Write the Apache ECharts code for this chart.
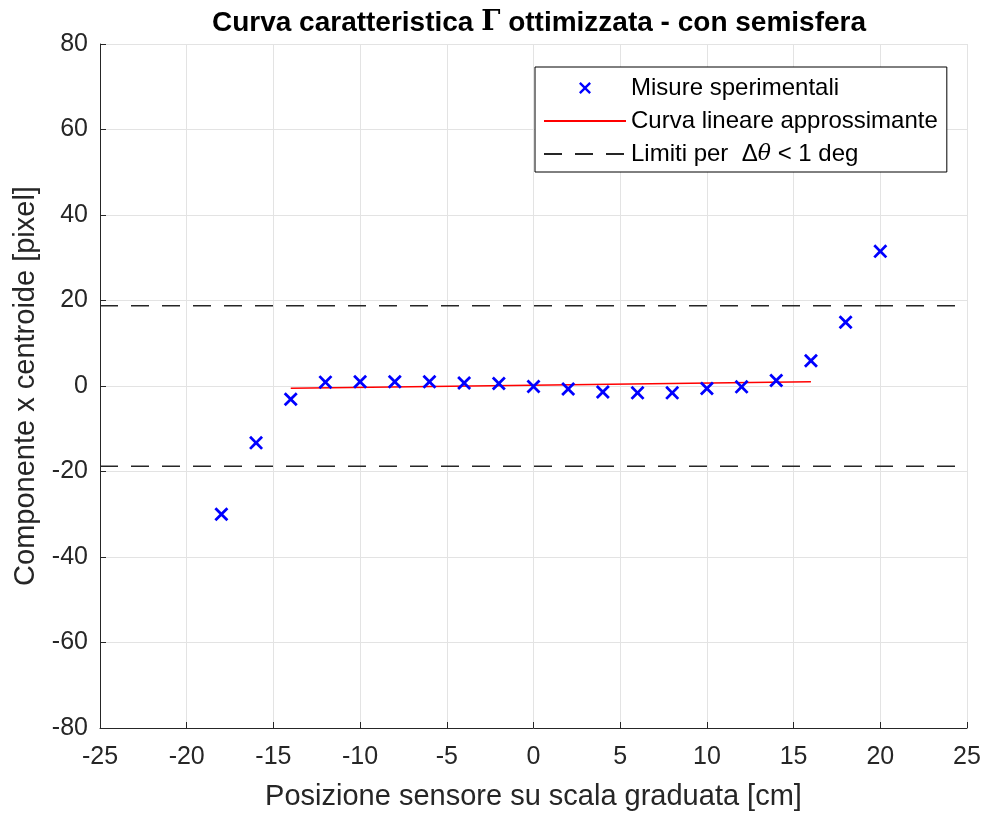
<!DOCTYPE html>
<html>
<head>
<meta charset="utf-8">
<script src="https://cdn.jsdelivr.net/npm/echarts@6/dist/echarts.min.js"></script>
<style>
html,body{margin:0;padding:0;background:#fff;}
#chart{width:985px;height:816px;}
</style>
</head>
<body>
<div id="chart"></div>
<script>
// Data
const positions = [-18, -16, -14, -12, -10, -8, -6, -4, -2, 0, 2, 4, 6, 8, 10, 12, 14, 16, 18, 20];
const centroidX = [-30.0, -13.3, -3.1, 0.9, 1.0, 1.0, 1.0, 0.7, 0.6, -0.1, -0.7, -1.4, -1.6, -1.6, -0.6, -0.2, 1.3, 5.9, 14.9, 31.5];
const fitX = [-14, 16];
const fitY = [-0.55, 1.02];
const limitX = [-25, 25];
const limitValue = 18.8;
const xTicks = [-25, -20, -15, -10, -5, 0, 5, 10, 15, 20, 25];
const yTicks = [-80, -60, -40, -20, 0, 20, 40, 60, 80];

const FONT = "'Liberation Sans', Arial, Helvetica, sans-serif";
const AXIS_COLOR = '#262626';
const X_PATH = 'path://M1.4,0 L5,3.6 L8.6,0 L10,1.4 L6.4,5 L10,8.6 L8.6,10 L5,6.4 L1.4,10 L0,8.6 L3.6,5 L0,1.4 Z';

const scatterData = positions.map((x, i) => [x, centroidX[i]]);
const fitData = fitX.map((x, i) => [x, fitY[i]]);
const upperLimit = limitX.map(x => [x, limitValue]);
const lowerLimit = limitX.map(x => [x, -limitValue]);

const chart = echarts.init(document.getElementById('chart'), null, {renderer: 'canvas'});
chart.setOption({
  animation: false,
  backgroundColor: '#ffffff',
  title: {
    text: 'Curva caratteristica {g|Γ} ottimizzata - con semisfera',
    left: 534,
    textAlign: 'center',
    top: 4,
    textStyle: {
      fontFamily: FONT, fontSize: 28, fontWeight: 'bold', color: '#000',
      rich: {
        g: {fontFamily: "'DejaVu Serif', 'Liberation Serif', serif", fontSize: 27, fontWeight: 'bold', color: '#000'}
      }
    }
  },
  grid: {left: 100, right: 18, top: 44, bottom: 86, containLabel: false},
  legend: {
    orient: 'vertical',
    left: 535,
    top: 67,
    padding: [9, 9, 6, 8],
    itemGap: 9,
    itemWidth: 82,
    itemHeight: 12,
    backgroundColor: '#fff',
    borderColor: '#000',
    borderWidth: 1,
    borderRadius: 0,
    textStyle: {
      fontFamily: FONT, fontSize: 24, color: '#000',
      rich: {
        i: {fontFamily: "'DejaVu Serif', 'Liberation Serif', serif", fontStyle: 'italic', fontSize: 22, color: '#000'}
      }
    },
    formatter: function (name) {
      if (name.indexOf('Limiti') === 0) return 'Limiti per  Δ{i|θ} < 1 deg';
      return name;
    },
    data: [
      {name: 'Misure sperimentali'},
      {name: 'Curva lineare approssimante', itemStyle: {opacity: 0}},
      {name: 'Limiti per Δθ < 1 deg', itemStyle: {opacity: 0}}
    ]
  },
  xAxis: {
    type: 'value',
    min: -25, max: 25, interval: 5,
    name: 'Posizione sensore su scala graduata [cm]',
    nameLocation: 'middle',
    nameGap: 54,
    nameTextStyle: {fontFamily: FONT, fontSize: 29, color: AXIS_COLOR},
    axisLine: {onZero: false, lineStyle: {color: AXIS_COLOR, width: 1}},
    axisTick: {inside: true, length: 6, lineStyle: {color: AXIS_COLOR}},
    axisLabel: {fontFamily: FONT, fontSize: 25, color: AXIS_COLOR, margin: 17,
      formatter: v => xTicks.includes(v) ? String(v) : ''},
    splitLine: {show: true, lineStyle: {color: '#e3e3e3', width: 1}}
  },
  yAxis: {
    type: 'value',
    min: -80, max: 80, interval: 20,
    name: 'Componente x centroide [pixel]',
    nameLocation: 'middle',
    nameRotate: 90,
    nameGap: 57,
    nameTextStyle: {fontFamily: FONT, fontSize: 29, color: AXIS_COLOR},
    axisLine: {show: true, onZero: false, lineStyle: {color: AXIS_COLOR, width: 1}},
    axisTick: {show: true, inside: true, length: 6, lineStyle: {color: AXIS_COLOR}},
    axisLabel: {fontFamily: FONT, fontSize: 25, color: AXIS_COLOR, margin: 12,
      formatter: v => yTicks.includes(v) ? String(v) : ''},
    splitLine: {show: true, lineStyle: {color: '#e3e3e3', width: 1}}
  },
  series: [
    {
      name: 'Limiti per Δθ < 1 deg',
      type: 'line',
      data: upperLimit,
      symbol: 'none',
      lineStyle: {color: '#262626', width: 1.5, type: [18, 13]},
      itemStyle: {color: '#262626'},
      z: 2
    },
    {
      name: 'Limiti per Δθ < 1 deg',
      type: 'line',
      data: lowerLimit,
      symbol: 'none',
      lineStyle: {color: '#262626', width: 1.5, type: [18, 13]},
      itemStyle: {color: '#262626'},
      z: 2
    },
    {
      name: 'Curva lineare approssimante',
      type: 'line',
      data: fitData,
      symbol: 'none',
      lineStyle: {color: '#ff0000', width: 1.5},
      itemStyle: {color: '#ff0000'},
      z: 3
    },
    {
      name: 'Misure sperimentali',
      type: 'scatter',
      data: scatterData,
      symbol: X_PATH,
      symbolSize: 14,
      symbolKeepAspect: true,
      itemStyle: {color: '#0000ff', opacity: 1},
      z: 4
    }
  ]
});
</script>
</body>
</html>
